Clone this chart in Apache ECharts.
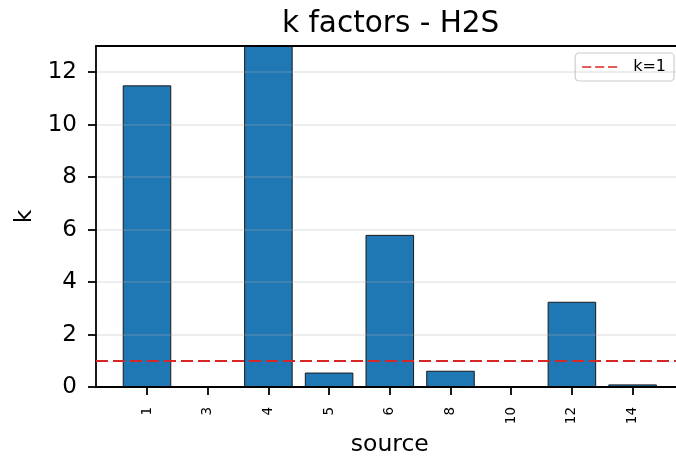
<!DOCTYPE html>
<html>
<head>
<meta charset="utf-8">
<script src="https://cdn.jsdelivr.net/npm/echarts@6/dist/echarts.min.js"></script>
<style>html,body{margin:0;padding:0;background:#fff}#c{width:676px;height:456px}</style>
</head>
<body>
<div id="c"></div>
<script>
const categories = ['1', '3', '4', '5', '6', '8', '10', '12', '14'];
const kValues = [11.5, 0.03, 13, 0.55, 5.8, 0.62, 0.03, 3.25, 0.1];
const refK = 1;
const refLabel = 'k=1';
const yTicks = [0, 2, 4, 6, 8, 10, 12];
const yMax = 13;

const FONT = 'DejaVu Sans';
const chart = echarts.init(document.getElementById('c'), null, {renderer: 'canvas'});
chart.setOption({
  animation: false,
  backgroundColor: '#ffffff',
  title: {
    text: 'k factors - H2S',
    left: 277, top: 4,
    textStyle: {fontFamily: FONT, fontSize: 29.5, fontWeight: 'normal', color: '#000'}
  },
  legend: {
    data: [{name: refLabel, icon: 'path://M0,0h12v2h-12z M17,0h12v2h-12z M34,0h12v2h-12z'}],
    right: 2, top: 53,
    itemWidth: 35, itemHeight: 2.3,
    padding: [6, 8, 6, 7],
    backgroundColor: 'rgba(255,255,255,0.8)',
    borderColor: '#cccccc', borderWidth: 1.2, borderRadius: 4,
    textStyle: {fontFamily: FONT, fontSize: 16, color: '#000', padding: [0, 0, 0, 11]},
    itemStyle: {color: '#d62728'}
  },
  grid: [
    {left: 96, top: 46, right: -7.6, bottom: 69, containLabel: false, outerBoundsMode: 'none'},
    {left: 116.65, top: 46, width: 546.3, bottom: 69, containLabel: false, outerBoundsMode: 'none'}
  ],
  xAxis: [
    {
      type: 'value', gridIndex: 0, min: 0, max: 1,
      name: 'source', nameLocation: 'middle', nameGap: 46,
      nameTextStyle: {fontFamily: FONT, fontSize: 23.5, color: '#000'},
      axisLine: {show: true, onZero: false, lineStyle: {color: '#000', width: 1.8}},
      axisTick: {show: false}, axisLabel: {show: false}, splitLine: {show: false}, z: 4
    },
    {
      type: 'value', gridIndex: 0, min: 0, max: 1, position: 'top',
      axisLine: {show: true, onZero: false, lineStyle: {color: '#000', width: 1.8}},
      axisTick: {show: false}, axisLabel: {show: false}, splitLine: {show: false}, z: 4
    },
    {
      type: 'category', gridIndex: 1, data: categories,
      axisLine: {show: false},
      axisTick: {show: true, alignWithLabel: true, length: 8, lineStyle: {color: '#000', width: 1.8}},
      axisLabel: {rotate: 90, margin: 20, fontFamily: FONT, fontSize: 13.5, color: '#000'},
      splitLine: {show: false}
    }
  ],
  yAxis: [
    {
      type: 'value', gridIndex: 0, min: 0, max: yMax, interval: 2,
      name: 'k', nameLocation: 'middle', nameGap: 58, nameRotate: 90,
      nameTextStyle: {fontFamily: FONT, fontSize: 23.5, color: '#000'},
      axisLine: {show: true, lineStyle: {color: '#000', width: 1.8}},
      axisTick: {show: true, length: 8, customValues: yTicks, lineStyle: {color: '#000', width: 1.8}},
      axisLabel: {margin: 19, fontFamily: FONT, fontSize: 23, color: '#000', customValues: yTicks,
        formatter: v => (yTicks.indexOf(v) >= 0 ? String(v) : '')},
      splitLine: {show: true, lineStyle: {color: 'rgba(176,176,176,0.3)', width: 1.5}},
      z: 4
    },
    {
      type: 'value', gridIndex: 1, min: 0, max: yMax, show: false
    }
  ],
  series: [
    {
      type: 'bar', name: 'k', xAxisIndex: 2, yAxisIndex: 1,
      data: kValues, barCategoryGap: '20%',
      itemStyle: {color: '#1f77b4', borderColor: '#1a1a1a', borderWidth: 1},
      z: 2
    },
    {
      type: 'line', name: refLabel, xAxisIndex: 0, yAxisIndex: 0,
      data: [], color: '#d62728',
      lineStyle: {color: '#d62728'},
      markLine: {
        silent: true, symbol: 'none', label: {show: false},
        lineStyle: {color: '#d62728', width: 2, type: [12, 5]},
        data: [{yAxis: refK}]
      },
      z: 5
    }
  ]
});
</script>
</body>
</html>
